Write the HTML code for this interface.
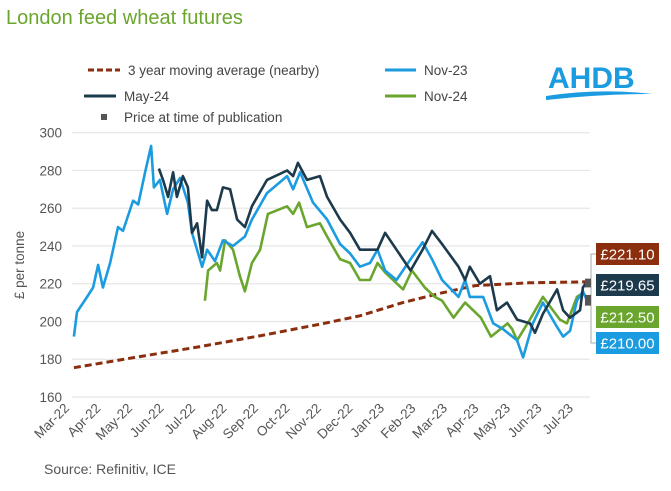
<!DOCTYPE html>
<html><head><meta charset="utf-8">
<style>
body{margin:0;background:#fff;width:671px;height:491px;overflow:hidden;font-family:"Liberation Sans",sans-serif}
svg{display:block}
</style></head>
<body>
<svg id="c" width="671" height="491" xmlns="http://www.w3.org/2000/svg" font-family="Liberation Sans, sans-serif">
<text x="6" y="24" font-size="20" fill="#6aa62e">London feed wheat futures</text>
<g>
<line x1="88" y1="70" x2="120" y2="70" stroke="#8b2e0e" stroke-width="3" stroke-dasharray="6,3"/>
<text x="128" y="75" font-size="13.5" fill="#444">3 year moving average (nearby)</text>
<line x1="385" y1="70" x2="416" y2="70" stroke="#1b9be0" stroke-width="3"/>
<text x="424" y="75" font-size="13.5" fill="#444">Nov-23</text>
<line x1="84" y1="96" x2="116" y2="96" stroke="#1d3a4c" stroke-width="3"/>
<text x="124" y="101" font-size="13.5" fill="#444">May-24</text>
<line x1="385" y1="96" x2="416" y2="96" stroke="#6aa62e" stroke-width="3"/>
<text x="424" y="101" font-size="13.5" fill="#444">Nov-24</text>
<rect x="101" y="114" width="6" height="6" fill="#555"/>
<text x="124" y="122" font-size="13.5" fill="#444">Price at time of publication</text>
</g>
<g>
<text x="548" y="88" font-size="30" font-weight="bold" fill="#1b9be0">AHDB</text>
<path d="M546 96 Q600 88 652 94 Q600 94 546 100 Z" fill="#1b9be0"/>
</g>
<text transform="translate(24,265) rotate(-90)" text-anchor="middle" font-size="13.5" fill="#555">£ per tonne</text>
<g id="grid"></g><g id="yt"></g><g id="xt"></g><g id="series"></g><g id="tags"></g>
<text x="44" y="474" font-size="14" fill="#555">Source: Refinitiv, ICE</text>
</svg>
<script>
const yTicks=[160,180,200,220,240,260,280,300];
const months=["Mar-22","Apr-22","May-22","Jun-22","Jul-22","Aug-22","Sep-22","Oct-22","Nov-22","Dec-22","Jan-23","Feb-23","Mar-23","Apr-23","May-23","Jun-23","Jul-23"];
// time in months since 1 Mar 2022
const nov23T=[0.06,0.16,0.48,0.67,0.83,0.98,1.21,1.46,1.62,1.94,2.1,2.32,2.51,2.6,2.79,3.02,3.21,3.43,3.68,3.81,4.13,4.29,4.54,4.79,5.11,5.49,5.71,6.19,6.83,7.02,7.24,7.65,8.1,8.51,8.83,9.14,9.46,9.7,9.94,10.3,10.75,11.13,11.43,11.75,12.27,12.48,12.63,13.05,13.37,13.68,14.13,14.32,14.63,14.95,15.4,15.59,15.81,16.03,16.22,16.38];
const nov23V=[192,205,213,218,230,218,231,250,248,264,262,279,293,271,275,257,270,276,263,247,229,238,232,243,240,245,254,268,277,270,279,263,254,241,236,229,231,238,227,222,233,242,233,222,213,222,213,213,199,196,190,181,199,210,197,192,195,211,216,210];
const may24T=[2.76,2.89,3.05,3.21,3.33,3.52,3.68,3.81,3.97,4.13,4.29,4.44,4.6,4.79,5.02,5.24,5.49,5.71,6.19,6.83,7.02,7.17,7.46,7.87,8.1,8.51,8.83,9.14,9.46,9.7,9.94,10.3,10.75,11.13,11.43,11.75,12.27,12.48,12.63,12.95,13.27,13.49,13.81,14.13,14.54,14.7,14.95,15.4,15.59,15.81,16.13,16.22,16.38];
const may24V=[281,275,266,279,266,277,271,247,252,234,264,259,259,271,270,254,250,261,275,280,277,284,275,277,266,254,247,238,238,238,247,238,227,238,248,241,229,222,229,220,224,206,210,201,199,194,204,217,206,202,206,218,222];
const nov24T=[4.22,4.32,4.6,4.7,4.86,5.11,5.33,5.49,5.71,5.97,6.22,6.83,7.02,7.21,7.46,7.87,8.1,8.51,8.83,9.14,9.46,9.7,9.94,10.51,10.79,11.2,11.52,11.75,12.11,12.48,12.98,13.3,13.83,13.97,14.13,14.57,14.95,15.49,15.71,16.03,16.22,16.38];
const nov24V=[211,227,231,227,243,238,224,216,231,238,257,261,257,263,250,252,245,233,231,222,222,231,226,217,227,218,213,211,202,210,202,192,199,196,190,202,213,201,199,213,215,212];
const maT=[0.06,2,4,6,8,9.14,10.5,11.7,12.8,14.5,16.35];
const maV=[175.5,181,186.5,192.5,199,203,210,215,219,220.5,221];
const tagLabels=["£221.10","£219.65","£212.50","£210.00"];
const tagValues=[221.1,219.65,212.5,210.0];
const tagColors=["#8b2e0e","#1d3a4c","#6aa62e","#1b9be0"];
const tagNames=["tag-ma","tag-may24","tag-nov24","tag-nov23"];

const NS="http://www.w3.org/2000/svg";
const x0=72,x1=590,y300=132.7,y160=397;
const xs=m=>x0+m*31.5;
const ys=v=>y160-(v-160)*(y160-y300)/140;
function mk(t,a,p){const e=document.createElementNS(NS,t);for(const k in a)e.setAttribute(k,a[k]);p.appendChild(e);return e;}
const grid=document.getElementById('grid'),yt=document.getElementById('yt'),xt=document.getElementById('xt');
yTicks.forEach(v=>{
 const l=mk('line',{x1:x0,x2:x1,y1:ys(v),y2:ys(v),stroke:'#e6e6e6','stroke-width':1.2},grid);
 
 
 const t=mk('text',{x:62,y:ys(v)+5,'text-anchor':'end','font-size':13.5,fill:'#555'},yt);
 t.textContent=v;
 
 
});
months.forEach((m,i)=>{
 const x=xs(i)-2;
 const t=mk('text',{transform:`translate(${x},409) rotate(-45)`,'text-anchor':'end','font-size':13.5,fill:'#555'},xt);
 t.textContent=m;
 
 
});
const sg=document.getElementById('series');
function line(T,V,color,name,dash){
 const d=T.map((t,i)=>(i?'L':'M')+xs(t).toFixed(1)+' '+ys(V[i]).toFixed(1)).join(' ');
 const a={d:d,fill:'none',stroke:color,'stroke-width':dash?3:2.6,'stroke-linejoin':'round'};
 if(dash)a['stroke-dasharray']='7,4';
 const p=mk('path',a,sg);
 
 
}
line(maT,maV,'#8b2e0e','ma-3yr-line',true);
line(nov24T,nov24V,'#6aa62e','nov24-line');
line(nov23T,nov23V,'#1b9be0','nov23-line');
line(may24T,may24V,'#1d3a4c','may24-line');
const tg=document.getElementById('tags');
const tagY=[254,285,317,343];
const lead=mk('path',{d:`M596 ${tagY[0]} L591 ${tagY[0]} L591 ${tagY[3]} L596 ${tagY[3]}`,stroke:'#aaa','stroke-width':1,fill:'none'},tg);


tagLabels.forEach((lab,i)=>{
 const m=mk('rect',{x:xs(16.38)-3,y:ys(tagValues[i])-3,width:6,height:6,fill:'#555'},tg);
 
 
 const r=mk('rect',{x:596,y:tagY[i]-11,width:63,height:22,fill:tagColors[i]},tg);
 
 
 const t=mk('text',{x:627.5,y:tagY[i]+5.5,'text-anchor':'middle','font-size':15,fill:'#fff'},tg);
 t.textContent=lab;
 
 
});
</script>
</body></html>
